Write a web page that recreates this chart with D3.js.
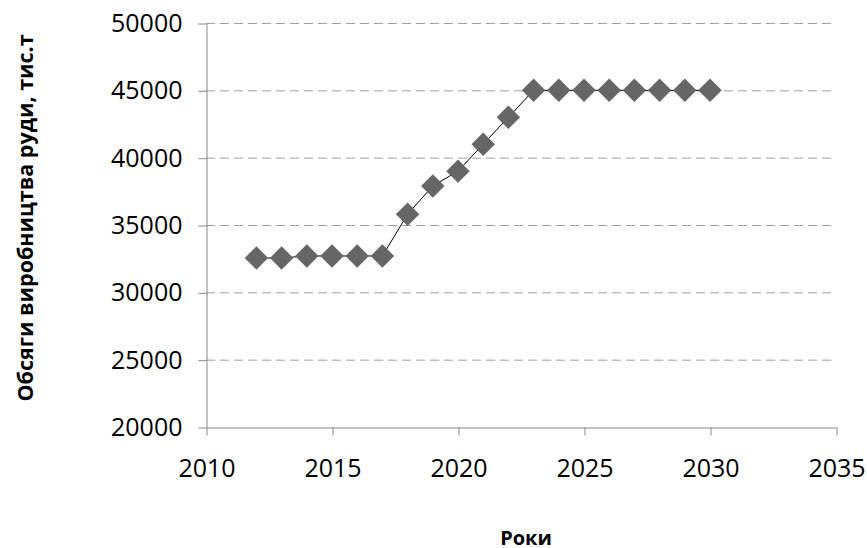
<!DOCTYPE html>
<html>
<head>
<meta charset="utf-8">
<script src="https://cdn.jsdelivr.net/npm/d3@7"></script>
<style>
	body { margin: 0; background: #fff; }
	svg { display: block; }
</style>
</head>
<body>
<svg id="chart" width="867" height="548"></svg>
<script>
	//Data--------------------------------------------------------------------
	var years = [2012, 2013, 2014, 2015, 2016, 2017, 2018, 2019, 2020, 2021,
		2022, 2023, 2024, 2025, 2026, 2027, 2028, 2029, 2030];
	var volumes = [32550, 32550, 32700, 32700, 32700, 32700, 35800, 37900, 39000,
		41000, 43000, 45000, 45000, 45000, 45000, 45000, 45000, 45000, 45000];
	var xTicks = [2010, 2015, 2020, 2025, 2030, 2035];
	var yTicks = [20000, 25000, 30000, 35000, 40000, 45000, 50000];
	var xTitle = 'Роки';
	var yTitle = 'Обсяги виробництва руди, тис.т';

	(function () {
		//Layout--------------------------------------------------------------
		var svg = d3.select('#chart');
		var pLeft = 206, pRight = 836, pTop = 23, pBottom = 427;

		var x = d3.scaleLinear().domain([2010, 2035]).range([pLeft, pRight]);
		var y = d3.scaleLinear().domain([20000, 50000]).range([pBottom, pTop]);

		//gridlines (dashed)
		svg.append('g')
			.selectAll('line')
			.data(yTicks.slice(1))
			.enter()
			.append('line')
			.attr('x1', pLeft)
			.attr('x2', pRight)
			.attr('y1', function (d) { return y(d) + 0.5; })
			.attr('y2', function (d) { return y(d) + 0.5; })
			.style('stroke', '#a0a0a0')
			.style('stroke-width', 1)
			.style('stroke-dasharray', '9,5');

		//axes
		var yAxis = svg.append('g')
			.attr('transform', 'translate(' + (pLeft + 0.5) + ',0.5)')
			.call(d3.axisLeft(y).tickValues(yTicks).tickSize(8).tickPadding(16)
				.tickSizeOuter(0).tickFormat(d3.format('d')));
		var xAxis = svg.append('g')
			.attr('transform', 'translate(0.5,' + (pBottom + 0.5) + ')')
			.call(d3.axisBottom(x).tickValues(xTicks).tickSize(8).tickPadding(24)
				.tickSizeOuter(0).tickFormat(d3.format('d')));

		[yAxis, xAxis].forEach(function (ax) {
			ax.select('.domain').style('stroke', '#888');
			ax.selectAll('.tick line').style('stroke', '#888');
			ax.selectAll('.tick text')
				.style('font-family', '"Open Sans", sans-serif')
				.style('font-size', '25px')
				.style('fill', '#000');
		});

		//series line
		var line = d3.line()
			.x(function (d, i) { return x(years[i]); })
			.y(function (d) { return y(d); });

		svg.append('path')
			.datum(volumes)
			.attr('d', line)
			.style('fill', 'none')
			.style('stroke', '#000')
			.style('stroke-width', 1);

		//diamond markers
		var diamond = d3.symbol().type(d3.symbolSquare).size(275);
		svg.append('g')
			.selectAll('path')
			.data(volumes)
			.enter()
			.append('path')
			.attr('d', diamond)
			.attr('transform', function (d, i) {
				return 'translate(' + x(years[i]) + ',' + y(d) + ')rotate(45)';
			})
			.style('fill', '#666666');

		//titles
		svg.append('text')
			.attr('x', 526)
			.attr('y', 545)
			.attr('text-anchor', 'middle')
			.style('font-family', '"Open Sans", sans-serif')
			.style('font-weight', 'bold')
			.style('font-size', '20px')
			.text(xTitle);

		svg.append('text')
			.attr('transform', 'translate(33,218)rotate(-90)')
			.attr('text-anchor', 'middle')
			.style('font-family', '"Open Sans", sans-serif')
			.style('font-weight', 'bold')
			.style('font-size', '21.5px')
			.text(yTitle);
	})();
</script>
</body>
</html>
